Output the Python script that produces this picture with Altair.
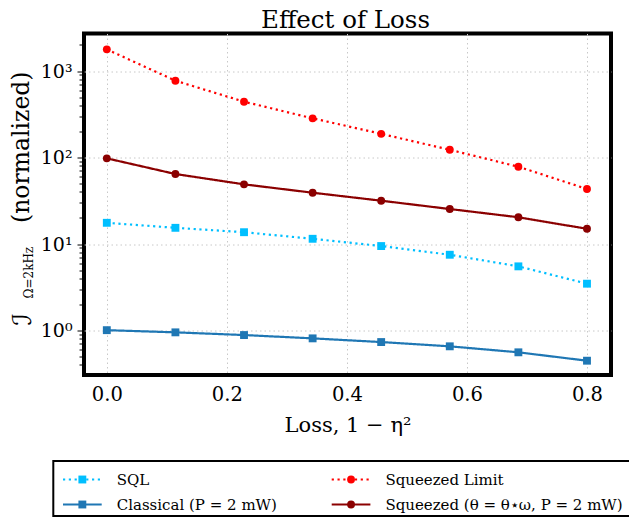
import altair as alt
import pandas as pd

# ---------------- data ----------------
loss = [0.0, 0.1143, 0.2286, 0.3429, 0.4571, 0.5714, 0.6857, 0.8]
sql = [17.6, 15.4, 13.7, 11.5, 9.48, 7.52, 5.52, 3.48]
squeezed_limit = [1782, 773, 442, 284, 188, 123, 78.3, 43.3]
classical = [1.01, 0.953, 0.887, 0.812, 0.736, 0.657, 0.560, 0.448]
squeezed = [97.9, 64.5, 49.0, 39.2, 31.7, 25.4, 20.4, 15.0]

series_names = ["SQL", "Squeezed Limit", "Classical (P = 2 mW)",
                "Squeezed (θ = θ⋆ω, P = 2 mW)"]
series_values = [sql, squeezed_limit, classical, squeezed]
colors = ["#00bfff", "#ff0000", "#1f77b4", "#8b0000"]
shapes = ["square", "circle", "square", "circle"]
dotted = [True, True, False, False]
legend_col = [0, 1, 0, 1]
legend_row = [0, 0, 1, 1]

x_ticks = [0.0, 0.2, 0.4, 0.6, 0.8]
y_major = [1, 10, 100, 1000]
y_minor = [0.4, 0.5, 0.6, 0.7, 0.8, 0.9, 2, 3, 4, 5, 6, 7, 8, 9,
           20, 30, 40, 50, 60, 70, 80, 90, 200, 300, 400, 500, 600, 700, 800, 900, 2000]
sup = {1: "10⁰", 10: "10¹", 100: "10²", 1000: "10³"}
title_text = "Effect of Loss"

rows = []
for name, vals in zip(series_names, series_values):
    for xv, v in zip(loss, vals):
        rows.append({"series": name, "loss": xv, "value": v})
df = pd.DataFrame(rows)

FONT = "DejaVu Serif"
DOT = [2.2, 3.6]
SOLID = [1, 0]
PLOT_W = 527
PLOT_H = 341.5

major_test = " || ".join(f"datum.value == {v}" for v in y_major)
label_expr = " : ".join(f"datum.value == {v} ? '{sup[v]}'" for v in y_major) + " : ''"

x_enc = alt.X("loss:Q",
              scale=alt.Scale(domain=[-0.038, 0.84], nice=False, zero=False),
              axis=alt.Axis(values=x_ticks, format=".1f", title="Loss, 1 − η²",
                            domain=False, ticks=False, tickSize=0,
                            labelFont=FONT, labelFontSize=19.5, labelColor="black",
                            labelPadding=10.5, titleFont=FONT, titleFontSize=21,
                            titleFontWeight="normal", titleColor="black", titlePadding=10,
                            grid=True, gridColor="#c8c8c8", gridDash=[1.5, 3], gridWidth=1))
y_enc = alt.Y("value:Q",
              scale=alt.Scale(type="log", domain=[0.3062, 2716], nice=False),
              axis=alt.Axis(values=y_major + y_minor, title=None, domain=False,
                            labelExpr=label_expr, labelOverlap=False, labelFlush=False,
                            labelFont=FONT, labelFontSize=19, labelColor="black",
                            labelPadding=5,
                            tickColor="black", tickWidth=1,
                            tickSize={"condition": {"test": major_test, "value": 7}, "value": 5},
                            grid=True, gridColor="#c8c8c8", gridDash=[1.5, 3], gridWidth=1,
                            gridOpacity={"condition": {"test": major_test, "value": 1}, "value": 0}))

lines = alt.Chart(df).mark_line(strokeWidth=2.2).encode(
    x=x_enc, y=y_enc,
    stroke=alt.Stroke("series:N", scale=alt.Scale(domain=series_names, range=colors), legend=None),
    strokeDash=alt.StrokeDash("series:N",
                              scale=alt.Scale(domain=series_names,
                                              range=[DOT if d else SOLID for d in dotted]),
                              legend=None),
)

points = alt.Chart(df).mark_point(filled=True, size=62, opacity=1).encode(
    x=x_enc, y=y_enc,
    color=alt.Color("series:N", scale=alt.Scale(domain=series_names, range=colors), legend=None),
    shape=alt.Shape("series:N", scale=alt.Scale(domain=series_names, range=shapes), legend=None),
)

one = alt.Data(values=[{"k": 1}])

# ---- chart title ----
title_mark = alt.Chart(one).mark_text(font=FONT, fontSize=24.5, align="center",
                                      baseline="alphabetic", color="black").encode(
    x=alt.value(PLOT_W / 2 - 2), y=alt.value(-6), text=alt.value(title_text))

# ---- y-axis title (script I with subscript, then "(normalized)") ----
ylab_I = alt.Chart(one).mark_text(font='"DejaVu Serif", "DejaVu Sans"', fontSize=26, angle=270,
                                  align="left", baseline="middle", color="black").encode(
    x=alt.value(-61.5), y=alt.value(292), text=alt.value("ℐ"))
ylab_sub = alt.Chart(one).mark_text(font=FONT, fontSize=12, angle=270,
                                    align="left", baseline="middle", color="black").encode(
    x=alt.value(-55.5), y=alt.value(265), text=alt.value("Ω=2kHz"))
ylab_norm = alt.Chart(one).mark_text(font=FONT, fontSize=23.5, angle=270,
                                     align="left", baseline="middle", color="black").encode(
    x=alt.value(-62.5), y=alt.value(189.5), text=alt.value("(normalized)"))

# ---- legend (drawn as a boxed two-column key below the plot) ----
LEG_BOX = dict(x=-30.7, x2=566, y=427.5, y2=482.5)
COL_X = [-21, 247.7]      # left end of the key line in each column
ROW_Y = [446, 471]        # centre line of each row
LINE_LEN = 38.7
LABEL_GAP = 15

legend_layers = [
    alt.Chart(one).mark_rect(fill="white", stroke="black", strokeWidth=2).encode(
        x=alt.value(LEG_BOX["x"]), x2=alt.value(LEG_BOX["x2"]),
        y=alt.value(LEG_BOX["y"]), y2=alt.value(LEG_BOX["y2"]))
]
for name, col, row, c, s, d in zip(series_names, legend_col, legend_row, colors, shapes, dotted):
    x0 = COL_X[col]
    yy = ROW_Y[row]
    legend_layers.append(
        alt.Chart(one).mark_rule(color=c, strokeWidth=2.2, strokeDash=DOT if d else SOLID).encode(
            x=alt.value(x0), x2=alt.value(x0 + LINE_LEN), y=alt.value(yy)))
    legend_layers.append(
        alt.Chart(one).mark_point(filled=True, shape=s, size=62, color=c, opacity=1).encode(
            x=alt.value(x0 + LINE_LEN / 2), y=alt.value(yy)))
    legend_layers.append(
        alt.Chart(one).mark_text(font=FONT, fontSize=15, align="left", baseline="middle",
                                 color="black").encode(
            x=alt.value(x0 + LINE_LEN + LABEL_GAP), y=alt.value(yy), text=alt.value(name)))

chart = alt.layer(lines, points, title_mark, ylab_I, ylab_sub, ylab_norm, *legend_layers).properties(
    width=PLOT_W, height=PLOT_H,
    autosize=alt.AutoSizeParams(type="none"),
    padding={"left": 76, "top": 25.5, "right": 18, "bottom": 143},
).configure_view(stroke="black", strokeWidth=4)

chart.save("out.html", embed_options={"renderer": "svg", "actions": False})
